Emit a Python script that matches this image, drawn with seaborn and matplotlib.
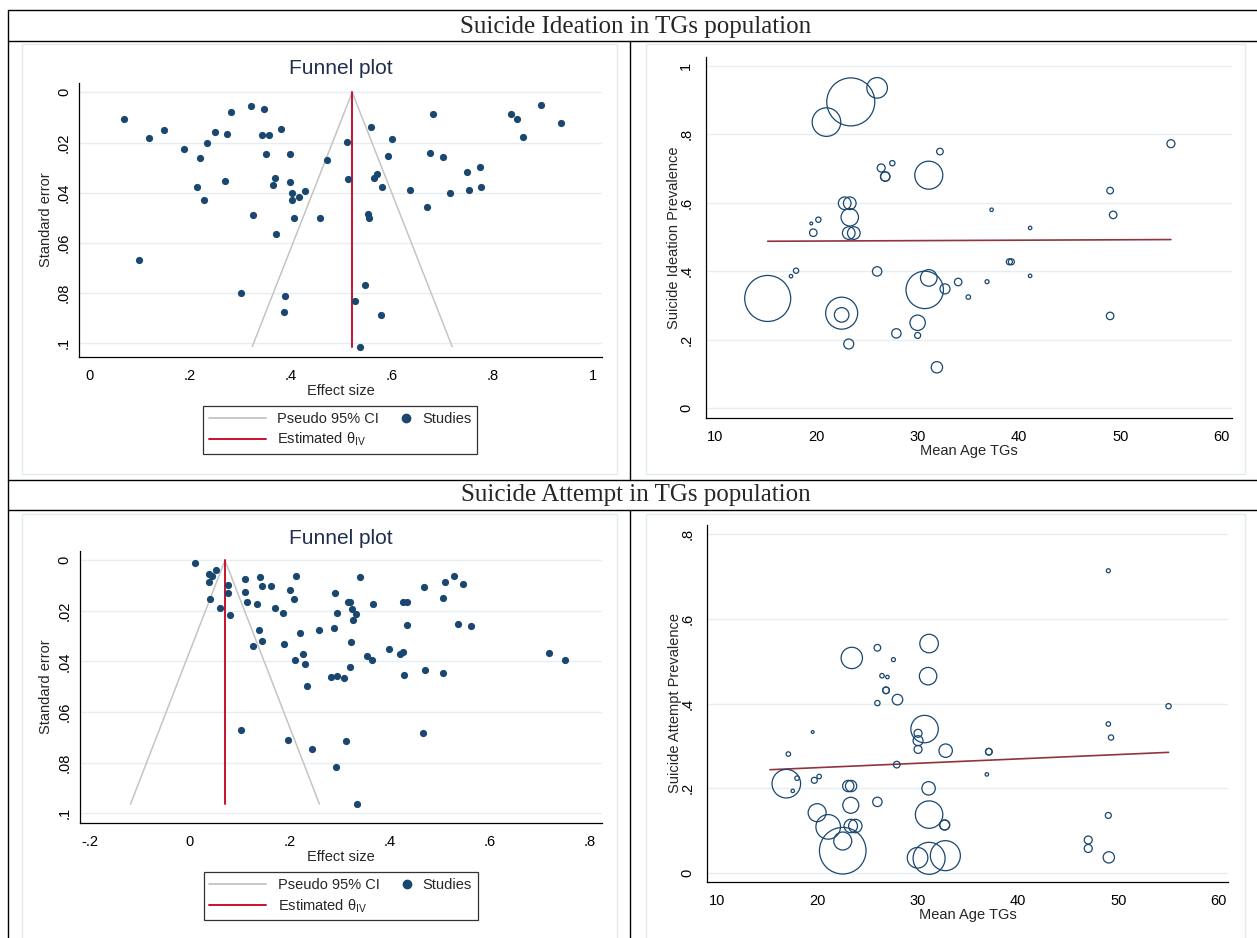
import matplotlib
matplotlib.use("Agg")
import matplotlib.pyplot as plt
from matplotlib.lines import Line2D
from matplotlib.patches import Rectangle
from matplotlib.legend_handler import HandlerBase
import pandas as pd
import seaborn as sns

# === Canvas (pixels) ===
W, H = 1257, 938
DPI = 100

# === Colours (Stata s2color look) ===
NAVY = "#1a476f"
RED = "#c8102e"
CI_GRAY = "#c4c4c4"
MAROON = "#90353b"
GRID = "#e6eef0"
PANEL_EDGE = "#e2ebee"
TITLE_NAVY = "#1f2e4f"

# === Suicide ideation: funnel plot ===
IDE_ES = [0.069, 0.119, 0.148, 0.188, 0.219, 0.233, 0.250, 0.273, 0.281, 0.322,
          0.346, 0.343, 0.356, 0.381, 0.350, 0.399, 0.472, 0.512, 0.513, 0.213,
          0.270, 0.228, 0.369, 0.364, 0.399, 0.402, 0.402, 0.417, 0.429, 0.325,
          0.406, 0.459, 0.370, 0.099, 0.302, 0.389, 0.387, 0.528, 0.538, 0.559,
          0.601, 0.593, 0.682, 0.677, 0.703, 0.566, 0.572, 0.582, 0.636, 0.716,
          0.750, 0.775, 0.754, 0.777, 0.670, 0.553, 0.556, 0.838, 0.849, 0.896,
          0.936, 0.861, 0.548, 0.580]
IDE_SE = [0.0108, 0.0182, 0.0149, 0.0226, 0.0262, 0.0202, 0.0157, 0.0166, 0.0077, 0.0055,
          0.0067, 0.0168, 0.0168, 0.0145, 0.0245, 0.0247, 0.0268, 0.0199, 0.0344, 0.0377,
          0.0352, 0.0428, 0.0341, 0.0369, 0.0357, 0.0401, 0.0430, 0.0417, 0.0394, 0.0488,
          0.0500, 0.0502, 0.0563, 0.0669, 0.0798, 0.0812, 0.0873, 0.0830, 0.1013, 0.0137,
          0.0187, 0.0253, 0.0088, 0.0241, 0.0259, 0.0340, 0.0327, 0.0377, 0.0388, 0.0400,
          0.0316, 0.0299, 0.0389, 0.0377, 0.0456, 0.0485, 0.0500, 0.0085, 0.0106, 0.0052,
          0.0124, 0.0179, 0.0767, 0.0885]
IDE_THETA = 0.522

# === Suicide attempt: funnel plot ===
ATT_ES = [0.009, 0.037, 0.052, 0.038, 0.043, 0.076, 0.076, 0.039, 0.059, 0.079,
          0.109, 0.109, 0.114, 0.133, 0.139, 0.143, 0.161, 0.212, 0.200, 0.207,
          0.169, 0.186, 0.137, 0.143, 0.125, 0.188, 0.220, 0.257, 0.226, 0.209,
          0.230, 0.234, 0.290, 0.293, 0.287, 0.315, 0.319, 0.323, 0.331, 0.325,
          0.322, 0.319, 0.282, 0.294, 0.307, 0.340, 0.101, 0.195, 0.244, 0.311,
          0.292, 0.333, 0.365, 0.353, 0.364, 0.397, 0.419, 0.425, 0.427, 0.469,
          0.506, 0.426, 0.433, 0.433, 0.467, 0.505, 0.510, 0.528, 0.545, 0.535,
          0.561, 0.717, 0.749, 0.465]
ATT_SE = [0.0009, 0.0055, 0.0038, 0.0087, 0.0061, 0.0098, 0.0128, 0.0152, 0.0190, 0.0217,
          0.0073, 0.0125, 0.0164, 0.0174, 0.0066, 0.0100, 0.0102, 0.0062, 0.0119, 0.0154,
          0.0189, 0.0210, 0.0277, 0.0319, 0.0337, 0.0331, 0.0286, 0.0277, 0.0369, 0.0395,
          0.0410, 0.0496, 0.0130, 0.0208, 0.0266, 0.0166, 0.0165, 0.0194, 0.0213, 0.0236,
          0.0322, 0.0420, 0.0460, 0.0459, 0.0467, 0.0066, 0.0672, 0.0712, 0.0747, 0.0714,
          0.0817, 0.0964, 0.0173, 0.0378, 0.0395, 0.0352, 0.0369, 0.0362, 0.0452, 0.0434,
          0.0445, 0.0164, 0.0164, 0.0256, 0.0104, 0.0149, 0.0085, 0.0063, 0.0095, 0.0253,
          0.0258, 0.0365, 0.0395, 0.0681]
ATT_THETA = 0.070

# === Suicide ideation: prevalence vs mean age (bubble = study weight) ===
IDE_AGE = [23.4, 26.0, 21.0, 32.2, 27.5, 26.4, 26.8, 26.8, 31.1, 22.8,
           23.3, 23.3, 23.2, 23.7, 19.5, 20.2, 19.7, 15.2, 17.5, 18.0,
           22.5, 22.5, 23.2, 26.0, 30.7, 31.1, 32.7, 34.0, 35.0, 30.0,
           30.0, 27.9, 31.9, 55.0, 49.0, 49.3, 37.3, 41.1, 39.05, 39.25,
           41.1, 36.85, 49.0]
IDE_PREV = [0.895, 0.936, 0.836, 0.750, 0.716, 0.702, 0.677, 0.677, 0.681, 0.599,
            0.599, 0.558, 0.512, 0.512, 0.540, 0.551, 0.513, 0.321, 0.386, 0.402,
            0.278, 0.273, 0.188, 0.400, 0.346, 0.381, 0.349, 0.369, 0.325, 0.250,
            0.213, 0.219, 0.120, 0.773, 0.636, 0.565, 0.580, 0.527, 0.428, 0.428,
            0.387, 0.370, 0.270]
IDE_WEIGHT = [576, 106, 204, 11, 7, 16, 22, 22, 196, 40,
              40, 76, 40, 40, 2, 7, 14, 529, 3, 7,
              256, 53, 25, 22, 350, 69, 25, 14, 5, 59,
              9, 22, 32, 16, 11, 14, 3, 3, 9, 9,
              3, 4, 14]
IDE_FIT_AGE = [15.2, 55.0]
IDE_FIT_PREV = [0.488, 0.493]

# === Suicide attempt: prevalence vs mean age ===
ATT_AGE = [23.45, 26.0, 27.6, 31.15, 31.05, 26.46, 27.0, 26.86, 26.86, 28.0,
           26.0, 30.7, 30.05, 30.05, 30.05, 32.8, 19.56, 17.13, 16.93, 18.0,
           17.57, 19.72, 20.2, 27.93, 23.1, 23.38, 23.35, 26.0, 31.1, 20.0,
           21.1, 23.35, 23.8, 22.55, 22.55, 31.15, 32.7, 32.7, 30.0, 31.15,
           32.77, 49.0, 55.0, 49.0, 49.27, 37.1, 37.1, 36.9, 49.0, 47.0,
           47.0, 49.05]
ATT_PREV = [0.508, 0.532, 0.504, 0.542, 0.465, 0.466, 0.463, 0.4315, 0.4315, 0.4095,
            0.4014, 0.340, 0.330, 0.3125, 0.292, 0.289, 0.333, 0.281, 0.211, 0.224,
            0.194, 0.219, 0.228, 0.256, 0.2055, 0.2055, 0.160, 0.168, 0.200, 0.1425,
            0.109, 0.111, 0.111, 0.0527, 0.0756, 0.138, 0.1134, 0.1134, 0.036, 0.0347,
            0.041, 0.714, 0.394, 0.352, 0.320, 0.2865, 0.2865, 0.233, 0.136, 0.078,
            0.058, 0.037]
ATT_WEIGHT = [114, 11, 4, 86, 76, 5, 3, 11, 11, 28,
              7, 188, 16, 25, 16, 45, 2, 5, 204, 5,
              3, 9, 5, 11, 32, 32, 64, 22, 45, 81,
              151, 45, 45, 543, 81, 188, 25, 25, 106, 256,
              225, 4, 7, 5, 7, 11, 11, 3, 9, 16,
              16, 32]
ATT_FIT_AGE = [15.3, 55.0]
ATT_FIT_PREV = [0.244, 0.285]

# === Tick labels (Stata style) ===
IDE_ES_TICKS = [0, 0.2, 0.4, 0.6, 0.8, 1]
IDE_ES_LABELS = ["0", ".2", ".4", ".6", ".8", "1"]
ATT_ES_TICKS = [-0.2, 0, 0.2, 0.4, 0.6, 0.8]
ATT_ES_LABELS = ["-.2", "0", ".2", ".4", ".6", ".8"]
SE_TICKS = [0, 0.02, 0.04, 0.06, 0.08, 0.1]
SE_LABELS = ["0", ".02", ".04", ".06", ".08", ".1"]
AGE_TICKS = [10, 20, 30, 40, 50, 60]
AGE_LABELS = ["10", "20", "30", "40", "50", "60"]
IDE_PREV_TICKS = [0, 0.2, 0.4, 0.6, 0.8, 1]
IDE_PREV_LABELS = ["0", ".2", ".4", ".6", ".8", "1"]
ATT_PREV_TICKS = [0, 0.2, 0.4, 0.6, 0.8]
ATT_PREV_LABELS = ["0", ".2", ".4", ".6", ".8"]

FONT_SIZE = 10.5
BUBBLE_SCALE = (2 * 72 / DPI) ** 2  # px^2 of radius -> pt^2 of marker area


class DotAtEnd(HandlerBase):
    # Stata puts the marker key right next to its label
    def create_artists(self, legend, orig_handle, xdescent, ydescent,
                       width, height, fontsize, trans):
        dot = Line2D([width - xdescent - 0.3 * fontsize], [0.5 * height - ydescent],
                     marker="o", ls="none", color=NAVY, ms=6, transform=trans)
        return [dot]


def px_axes(fig, x0, y0, x1, y1):
    # axes from pixel box, origin at top left
    return fig.add_axes([x0 / W, 1 - y1 / H, (x1 - x0) / W, (y1 - y0) / H])


def fig_line(fig, x0, y0, x1, y1, color="black", lw=1.0):
    fig.add_artist(Line2D([x0 / W, x1 / W], [1 - y0 / H, 1 - y1 / H],
                          transform=fig.transFigure, color=color, lw=lw))


def style_axes(ax, xticks, xlabels, yticks, ylabels, ypad):
    ax.set_xticks(xticks, xlabels)
    ax.set_yticks(yticks, ylabels)
    for side in ("top", "right"):
        ax.spines[side].set_visible(False)
    for side in ("left", "bottom"):
        ax.spines[side].set_linewidth(0.9)
        ax.spines[side].set_color("black")
    ax.tick_params(axis="both", direction="out", length=4.5, width=0.8,
                   labelsize=FONT_SIZE, color="black", labelcolor="black")
    ax.tick_params(axis="x", pad=4)
    ax.tick_params(axis="y", pad=ypad)
    for lab in ax.get_yticklabels():
        lab.set_rotation(90)
        lab.set_va("center")
    ax.grid(False)
    ax.yaxis.grid(True, color=GRID, lw=1.0)
    ax.set_axisbelow(True)
    ax.set_facecolor("white")


def draw_funnel(fig, box, es, se, theta, xticks, xlabels, xlim, ylim, title_y):
    ax = px_axes(fig, *box)
    se_max = max(se)
    # pseudo 95% confidence limits
    sns.lineplot(x=[theta - 1.96 * se_max, theta, theta + 1.96 * se_max],
                 y=[se_max, 0, se_max], color=CI_GRAY, lw=1.1, sort=False,
                 estimator=None, ax=ax)
    sns.lineplot(x=[theta, theta], y=[0, se_max], color=RED, lw=1.4,
                 estimator=None, ax=ax)
    sns.scatterplot(x=es, y=se, color=NAVY, s=27, edgecolor=NAVY,
                    linewidth=0, zorder=3, ax=ax)
    ax.set_xlim(*xlim)
    ax.set_ylim(*ylim)
    style_axes(ax, xticks, xlabels, SE_TICKS, SE_LABELS, ypad=1.5)
    ax.set_xlabel("Effect size", fontsize=FONT_SIZE, labelpad=1)
    ax.set_ylabel("Standard error", fontsize=FONT_SIZE, labelpad=3)

    fig.text(341 / W, 1 - title_y / H, "Funnel plot", ha="center", va="center",
             fontsize=15, color=TITLE_NAVY)

    ci_key = Line2D([], [], color=CI_GRAY, lw=1.3)
    est_key = Line2D([], [], color=RED, lw=1.4)
    dot_key = Line2D([], [], marker="o", ls="none", color=NAVY, ms=6)
    leg = ax.legend([ci_key, est_key, dot_key],
                    ["Pseudo 95% CI", r"Estimated θ$_{\rm IV}$", "Studies"],
                    handler_map={dot_key: DotAtEnd()},
                    loc="upper left", bbox_to_anchor=(0.2367, -0.18),
                    ncol=2, fontsize=FONT_SIZE, frameon=True, fancybox=False,
                    edgecolor="black", handlelength=3.9, handletextpad=0.8,
                    labelspacing=0.35, borderpad=0.4, borderaxespad=0,
                    columnspacing=-1.75)
    leg.get_frame().set_linewidth(0.9)
    return ax


def draw_bubble(fig, box, age, prev, weight, fit_age, fit_prev, yticks, ylabels,
                xlim, ylim, ylabel):
    ax = px_axes(fig, *box)
    df = pd.DataFrame({"age": age, "prev": prev, "weight": weight})
    sns.scatterplot(data=df, x="age", y="prev", s=df["weight"] * BUBBLE_SCALE,
                    color=NAVY, facecolor="none", edgecolor=NAVY, linewidth=0.9,
                    zorder=3, ax=ax)
    sns.lineplot(x=fit_age, y=fit_prev, color=MAROON, lw=1.2, estimator=None,
                 zorder=2, ax=ax)
    ax.set_xlim(*xlim)
    ax.set_ylim(*ylim)
    style_axes(ax, AGE_TICKS, AGE_LABELS, yticks, ylabels, ypad=4.5)
    ax.set_xlabel("Mean Age TGs", fontsize=FONT_SIZE, labelpad=0)
    ax.set_ylabel(ylabel, fontsize=FONT_SIZE, labelpad=-1)
    return ax


def main():
    sns.set_style("white")
    plt.rcParams["font.family"] = ["Liberation Sans", "DejaVu Sans"]
    plt.rcParams["mathtext.fontset"] = "custom"
    plt.rcParams["mathtext.rm"] = "Liberation Sans"
    plt.rcParams["mathtext.it"] = "Liberation Sans:italic"

    fig = plt.figure(figsize=(W / DPI, H / DPI), dpi=DPI)
    fig.patch.set_facecolor("white")

    # faint Stata graph-region borders
    for (x0, y0, x1, y1) in [(22, 44, 617, 474), (646, 44, 1245, 474),
                             (22, 514, 617, 945), (646, 514, 1245, 945)]:
        fig.add_artist(Rectangle((x0 / W, 1 - y1 / H), (x1 - x0) / W, (y1 - y0) / H,
                                 transform=fig.transFigure, fill=False,
                                 edgecolor=PANEL_EDGE, lw=1.0))

    # table frame
    fig_line(fig, 8, 10, W, 10)
    fig_line(fig, 8, 41, W, 41)
    fig_line(fig, 8, 480, W, 480)
    fig_line(fig, 8, 510, W, 510)
    fig_line(fig, 8, 10, 8, H)
    fig_line(fig, 630, 41, 630, 480)
    fig_line(fig, 630, 510, 630, H)

    fig.text(636 / W, 1 - 27 / H, "Suicide Ideation in TGs population",
             ha="center", va="center", fontsize=18, family="Liberation Serif")
    fig.text(636 / W, 1 - 495 / H, "Suicide Attempt in TGs population",
             ha="center", va="center", fontsize=18, family="Liberation Serif")

    draw_funnel(fig, (79.3, 83.3, 602, 356.7), IDE_ES, IDE_SE, IDE_THETA,
                IDE_ES_TICKS, IDE_ES_LABELS, (-0.0199, 1.018), (0.1053, -0.0036), 69)
    draw_funnel(fig, (80, 551, 602, 823.3), ATT_ES, ATT_SE, ATT_THETA,
                ATT_ES_TICKS, ATT_ES_LABELS, (-0.22, 0.824), (0.104, -0.0037), 538)

    draw_bubble(fig, (705.7, 56.7, 1231.7, 418.3), IDE_AGE, IDE_PREV, IDE_WEIGHT,
                IDE_FIT_AGE, IDE_FIT_PREV, IDE_PREV_TICKS, IDE_PREV_LABELS,
                (9.08, 61.0), (-0.029, 1.027), "Suicide Ideation Prevalence")
    draw_bubble(fig, (707.3, 525, 1228.3, 881.7), ATT_AGE, ATT_PREV, ATT_WEIGHT,
                ATT_FIT_AGE, ATT_FIT_PREV, ATT_PREV_TICKS, ATT_PREV_LABELS,
                (9.06, 60.95), (-0.0205, 0.822), "Suicide Attempt Prevalence")

    fig.savefig("out.png", dpi=DPI)


if __name__ == "__main__":
    main()
